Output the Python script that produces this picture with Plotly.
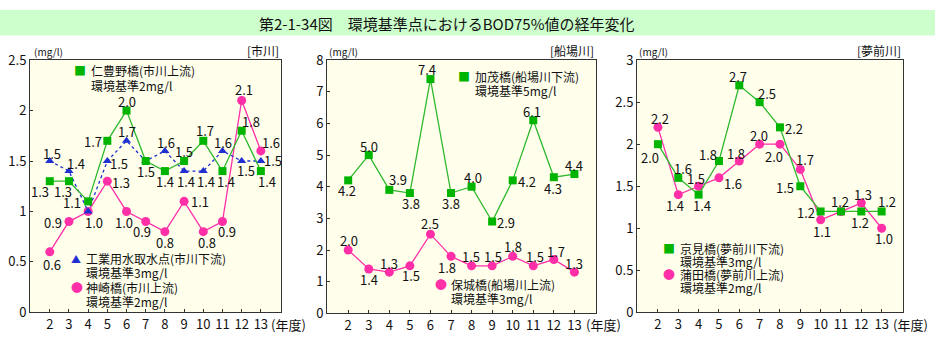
import plotly.graph_objects as go

W, H = 935, 345
years = [2, 3, 4, 5, 6, 7, 8, 9, 10, 11, 12, 13]

# Panel 1: 市川
ichi_nibuno = [1.3, 1.3, 1.1, 1.7, 2.0, 1.5, 1.4, 1.5, 1.7, 1.4, 1.8, 1.4]
ichi_kogyo = [1.5, 1.4, 1.0, 1.5, 1.7, 1.5, 1.6, 1.4, 1.4, 1.6, 1.5, 1.5]
ichi_kanzaki = [0.6, 0.9, 1.0, 1.3, 1.0, 0.9, 0.8, 1.1, 0.8, 0.9, 2.1, 1.6]
# Panel 2: 船場川
sen_kamo = [4.2, 5.0, 3.9, 3.8, 7.4, 3.8, 4.0, 2.9, 4.2, 6.1, 4.3, 4.4]
sen_hojo = [2.0, 1.4, 1.3, 1.5, 2.5, 1.8, 1.5, 1.5, 1.8, 1.5, 1.7, 1.3]
# Panel 3: 夢前川
yume_kyomi = [2.0, 1.6, 1.4, 1.8, 2.7, 2.5, 2.2, 1.5, 1.2, 1.2, 1.2, 1.2]
yume_gamata = [2.2, 1.4, 1.5, 1.6, 1.8, 2.0, 2.0, 1.7, 1.1, 1.2, 1.3, 1.0]

FONT = "Noto Sans CJK JP"
GREEN = "#00b400"
GREEN_LINE = "#2db82d"
PINK = "#ff2fa8"
BLUE = "#1f2fd0"

def px_x(p):
    return p / W

def px_y(p):
    return 1 - p / H

panels = [
    dict(dom=(30, 281), top=53, bot=320, yr=(0, 2.5), dt=0.5, unit_x=32, tag="[市川]"),
    dict(dom=(327, 596), top=53, bot=321, yr=(0, 8), dt=1, unit_x=327, tag="[船場川]"),
    dict(dom=(637, 903), top=53, bot=320, yr=(0, 3), dt=0.5, unit_x=637, tag="[夢前川]"),
]

# label offsets (pixels, dx right, dy down) for each value label; None = no label
OFF = {
    "ichi_nibuno": [(-10, 9), (-6, 9), (-16, 0), (-14, 0), (0, -10), (0, 9), (0, 9), (0, -11),
                    (2, -11), (4, 9), (9, -10), (6, 9)],
    "ichi_kogyo": [(2, -9), (7, -9), (6, 10), (12, 1), (0, -10), None, (1, -9), (2, 9),
                   (3, 9), (1, -9), (4, 8), (12, -2)],
    "ichi_kanzaki": [(2, 12), (-16, 0), None, (14, 0), (-3, 10), (-4, 9), (0, 10), (16, -1),
                     (4, 10), (5, 9), (2, -12), (10, -9)],
    "sen_kamo": [(-1, 9), (0, -10), (9, -11), (1, 9), (-3, -11), (0, 9), (1, -10), (14, 0),
                 (14, 0), (-1, -10), (-1, 10), (0, -10)],
    "sen_hojo": [(1, -11), (0, 9), (0, -10), (1, 9), (0, -12), (-4, 10), (-1, -10), (1, -10),
                 (0, -11), (2, -10), (2, -9), (0, -10)],
    "yume_kyomi": [(-8, 12), (5, -10), (3, 10), (-11, -8), (-1, -10), (7, -10), (14, 0),
                   (-15, 0), (-15, 0), (-1, -11), (-1, 10), (5, -11)],
    "yume_gamata": [(2, -10), (-3, 10), (-3, -9), (14, 5), (-3, -9), (-1, -10), (-6, 11),
                    (5, -11), (1, 11), None, (2, -10), (2, 9)],
}

fig = go.Figure()
annotations = []

def add_series(idx, key, vals, color, line_color, symbol, size, dash="solid"):
    ax = "" if idx == 1 else str(idx)
    fig.add_trace(go.Scatter(
        x=years, y=vals, mode="lines+markers",
        line=dict(color=line_color, width=1.3, dash=dash),
        marker=dict(color=color, symbol=symbol, size=size, line=dict(width=0)),
        xaxis="x" + ax, yaxis="y" + ax, showlegend=False, cliponaxis=False,
    ))
    for x, v, off in zip(years, vals, OFF[key]):
        if off is None:
            continue
        annotations.append(dict(
            x=x, y=v, xref="x" + ax, yref="y" + ax, text=f"{v:.1f}", showarrow=False,
            xanchor="center", yanchor="middle", xshift=off[0], yshift=-off[1] - 1,
            font=dict(family=FONT, size=13, color="#111"),
        ))

add_series(1, "ichi_kanzaki", ichi_kanzaki, PINK, PINK, "circle", 9)
add_series(1, "ichi_kogyo", ichi_kogyo, BLUE, BLUE, "triangle-up", 8, dash="dot")
add_series(1, "ichi_nibuno", ichi_nibuno, GREEN, GREEN_LINE, "square", 8)
add_series(2, "sen_hojo", sen_hojo, PINK, PINK, "circle", 9)
add_series(2, "sen_kamo", sen_kamo, GREEN, GREEN_LINE, "square", 8)
add_series(3, "yume_gamata", yume_gamata, PINK, PINK, "circle", 9)
add_series(3, "yume_kyomi", yume_kyomi, GREEN, GREEN_LINE, "square", 8)

layout = dict(
    width=W, height=H, autosize=False,
    margin=dict(l=0, r=0, t=0, b=0),
    paper_bgcolor="white", plot_bgcolor="#ffffec",
    font=dict(family=FONT, size=12, color="#111"),
)
shapes = []
for i, p in enumerate(panels, start=1):
    ax = "" if i == 1 else str(i)
    dom = [px_x(p["dom"][0]), px_x(p["dom"][1])]
    ydom = [px_y(p["bot"]), px_y(p["top"])]
    layout["xaxis" + ax] = dict(
        domain=dom, range=[0.97, 14.05], tickvals=years, ticktext=[str(y) for y in years],
        ticks="inside", ticklen=3, tickcolor="#333", showgrid=False, zeroline=False,
        showline=True, linecolor="#333", linewidth=1, mirror=True,
        tickfont=dict(family=FONT, size=13), anchor="y" + ax, fixedrange=True,
    )
    layout["yaxis" + ax] = dict(
        domain=ydom, range=list(p["yr"]), dtick=p["dt"], tick0=0,
        ticks="inside", ticklen=3, tickcolor="#333", showgrid=False, zeroline=False,
        showline=True, linecolor="#333", linewidth=1, mirror=True,
        tickfont=dict(family=FONT, size=13), anchor="x" + ax, fixedrange=True,
    )
    annotations.append(dict(x=px_x(p["unit_x"]), y=px_y(44), xref="paper", yref="paper",
                            text="(mg/l)", showarrow=False, xanchor="left", yanchor="middle",
                            font=dict(family=FONT, size=10)))
    annotations.append(dict(x=px_x(p["dom"][1]), y=px_y(43), xref="paper", yref="paper",
                            text=p["tag"], showarrow=False, xanchor="right", yanchor="middle",
                            font=dict(family=FONT, size=12)))
    annotations.append(dict(x=px_x(p["dom"][1] - 12), y=px_y(333), xref="paper", yref="paper",
                            text="(年度)", showarrow=False, xanchor="left", yanchor="middle",
                            font=dict(family=FONT, size=13)))

# Title bar
shapes.append(dict(type="rect", xref="paper", yref="paper", x0=0, x1=1, y0=px_y(27), y1=1,
                   fillcolor="#ccffcc", line=dict(width=0), layer="below"))
annotations.append(dict(x=px_x(257), y=px_y(14), xref="paper", yref="paper",
                        text="第2-1-34図　環境基準点におけるBOD75%値の経年変化", showarrow=False,
                        xanchor="left", yanchor="middle", font=dict(family=FONT, size=15)))

def legend(mx, my, color, glyph, lines, tx, size=12, gap=15):
    annotations.append(dict(x=px_x(mx), y=px_y(my), xref="paper", yref="paper", text=glyph,
                            showarrow=False, xanchor="center", yanchor="middle",
                            font=dict(family=FONT, size=size, color=color)))
    for k, t in enumerate(lines):
        annotations.append(dict(x=px_x(tx), y=px_y(my + gap * k), xref="paper", yref="paper",
                                text=t, showarrow=False, xanchor="left", yanchor="middle",
                                font=dict(family=FONT, size=12)))

legend(80, 64, GREEN, "■", ["仁豊野橋(市川上流)", "環境基準2mg/l"], 89, gap=16)
legend(76, 263, BLUE, "▲", ["工業用水取水点(市川下流)", "環境基準3mg/l"], 84, size=10, gap=15)
legend(77, 294, PINK, "●", ["神崎橋(市川上流)", "環境基準2mg/l"], 84, gap=14)
legend(464, 70, GREEN, "■", ["加茂橋(船場川下流)", "環境基準5mg/l"], 473)
legend(441, 290, PINK, "●", ["保城橋(船場川上流)", "環境基準3mg/l"], 449)
legend(669, 252, GREEN, "■", ["京見橋(夢前川下流)", "環境基準3mg/l"], 678, gap=14)
legend(669, 280, PINK, "●", ["蒲田橋(夢前川上流)", "環境基準2mg/l"], 678, gap=14)

layout["annotations"] = annotations
layout["shapes"] = shapes
fig.update_layout(**layout)
fig.write_html("out.html")
